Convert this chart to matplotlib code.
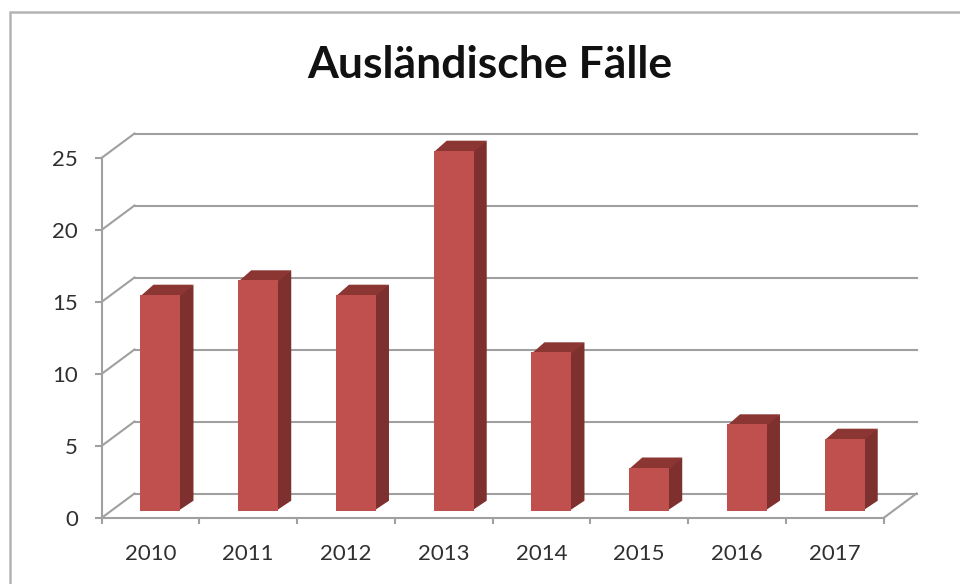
import matplotlib
matplotlib.use("Agg")
import matplotlib.pyplot as plt
from matplotlib.patches import Rectangle, Polygon
from matplotlib.transforms import Affine2D

years = ["2010", "2011", "2012", "2013", "2014", "2015", "2016", "2017"]
cases = [15, 16, 15, 25, 11, 3, 6, 5]
y_ticks = [0, 5, 10, 15, 20, 25]
title = "Ausländische Fälle"

W, H = 960, 584
plt.rcParams["font.family"] = ["Lato", "DejaVu Sans"]
fig = plt.figure(figsize=(W / 100, H / 100), dpi=100, facecolor="white")

# chart-area border (runs off the right and bottom of the picture)
fig.add_artist(Rectangle((10 / W, -0.05), 1.1, 1.05 - 12 / H, transform=fig.transFigure,
                         fill=False, ec="#b4b4b4", lw=1.8))

L, R, Y0, Y25 = 101.5, 883.5, 518, 158
ax = fig.add_axes([L / W, 1 - Y0 / H, (R - L) / W, (Y0 - Y25) / H])
ax.set_xlim(0, len(years))
ax.set_ylim(0, 25)
ax.patch.set_alpha(0)

GRID = "#a0a0a0"
LW = 1.5
back = ax.transData + Affine2D().translate(33, 24.5)
front_bar = ax.transData + Affine2D().translate(10.1, 7.3)

# back wall grid + diagonal side-wall ticks
for v in y_ticks:
    ax.plot([0, len(years)], [v, v], transform=back, color=GRID, lw=LW, clip_on=False, zorder=1,
            solid_capstyle="projecting")
dx_wall, dy_wall = 33 / ((R - L) / len(years)), 24.5 / ((Y0 - Y25) / 25)
for v in y_ticks:
    ax.plot([0, dx_wall], [v, v + dy_wall], color=GRID, lw=LW, clip_on=False, zorder=1)
ax.plot([len(years), len(years) + dx_wall], [0, dy_wall], color=GRID, lw=LW, clip_on=False, zorder=1)

# 3-D bars
bw = 40 / ((R - L) / len(years))
dx = 13 / ((R - L) / len(years))
dy = 10 / ((Y0 - Y25) / 25)
centers = [i + 0.5 for i in range(len(years))]
for c, v in zip(centers, cases):
    l, r = c - bw / 2, c + bw / 2
    inner = r - 0.02
    ax.add_patch(Polygon([(inner, 0), (r + dx, dy), (r + dx, v + dy), (inner, v)], closed=True,
                         fc="#7d302e", ec="none", transform=front_bar, clip_on=False, zorder=3))
    ax.add_patch(Polygon([(l, v - 0.1), (r, v - 0.1), (r + dx, v + dy), (l + dx, v + dy)], closed=True,
                         fc="#8c3633", ec="none", transform=front_bar, clip_on=False, zorder=3))
ax.bar(centers, cases, width=bw, color="#c0504d", transform=front_bar, clip_on=False, zorder=4)

# axes
for s in ("top", "right"):
    ax.spines[s].set_visible(False)
for s in ("left", "bottom"):
    ax.spines[s].set_color(GRID)
    ax.spines[s].set_linewidth(LW)
    ax.spines[s].set_zorder(2)

ax.set_yticks(y_ticks)
ax.set_xticks(range(len(years) + 1))
ax.set_xticklabels([])
ax.set_xticks(centers, minor=True)
ax.set_xticklabels(years, minor=True)
ax.tick_params(axis="x", which="major", length=4.5, width=LW, color=GRID)
ax.tick_params(axis="x", which="minor", length=0, pad=18.5, labelsize=16, labelcolor="#303030")
ax.tick_params(axis="y", length=5, width=LW, color=GRID, pad=12, labelsize=16, labelcolor="#303030")

fig.text(489.5 / W, 1 - 65 / H, title, ha="center", va="center", fontsize=32, fontweight="bold", color="#111111")

fig.savefig("out.png", dpi=100)
